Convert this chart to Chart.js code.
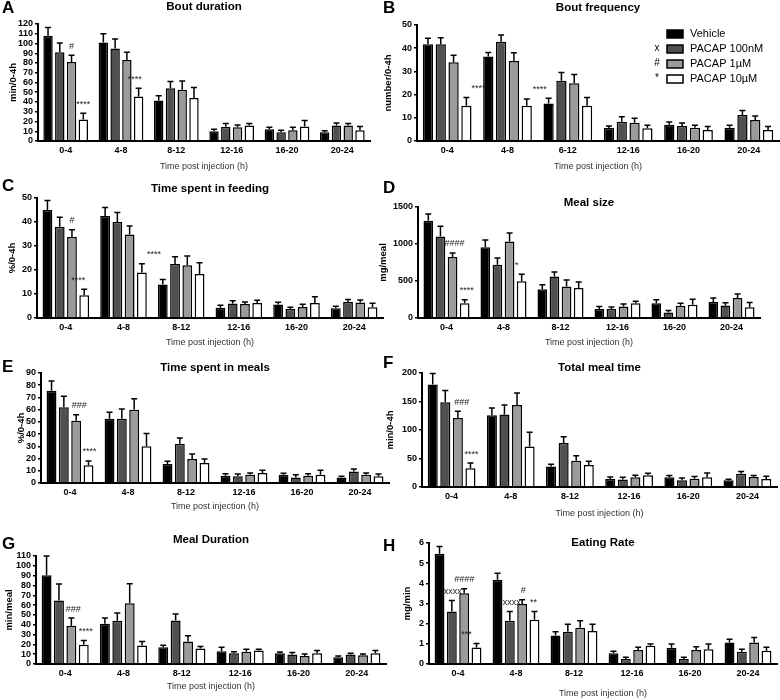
<!DOCTYPE html>
<html>
<head>
<meta charset="utf-8">
<script src="https://cdn.jsdelivr.net/npm/chart.js@4.4.1/dist/chart.umd.min.js"></script>
<style>
  body { margin: 0; background: #fff; width: 780px; height: 700px; position: relative; overflow: hidden; }
  canvas { position: absolute; }
</style>
</head>
<body>
<canvas id="cA"></canvas>
<canvas id="cC"></canvas>
<canvas id="cE"></canvas>
<canvas id="cG"></canvas>
<canvas id="cB"></canvas>
<canvas id="cD"></canvas>
<canvas id="cF"></canvas>
<canvas id="cH"></canvas>
<script>
// ---- data ----
const hours = ['0-4', '4-8', '8-12', '12-16', '16-20', '20-24'];
const hoursB = ['0-4', '4-8', '6-12', '12-16', '16-20', '20-24'];   // as printed in panel B
const groups = ['Vehicle', 'PACAP 100nM', 'PACAP 1µM', 'PACAP 10µM'];
const groupMarks = ['', 'x', '#', '*'];

// rows: vehicle, 100nM, 1uM, 10uM ; columns: time bins
const boutDuration = [
  [108, 101, 41.5, 10, 12, 9],
  [91, 95, 54, 14.7, 9, 16],
  [81, 83, 52.5, 14, 11, 16],
  [22, 45.6, 44, 15.8, 15, 11]
];
const boutDurationSem = [
  [8.5, 9, 5, 2, 2, 1.5],
  [9.5, 9.5, 7, 3.3, 2, 2.5],
  [7, 8, 9, 2.5, 3, 2],
  [6.5, 8.5, 11, 2.2, 6, 4]
];

const boutFrequency = [
  [41.7, 36.4, 16.2, 5.6, 7, 5.7],
  [41.7, 42.8, 26, 8.3, 6.5, 11.2],
  [33.9, 34.5, 24.9, 7.9, 5.7, 9],
  [15.2, 15.2, 15.2, 5.5, 4.7, 4.7]
];
const boutFrequencySem = [
  [2.6, 1.8, 2.2, 0.9, 1.2, 1.1],
  [2.8, 2.9, 3.5, 2.2, 1.3, 1.9],
  [3.1, 3.5, 3.8, 1.9, 1.1, 1.8],
  [3.6, 2.9, 3.5, 1.3, 1.5, 1.5]
];

const feedingTime = [
  [45, 42.5, 14, 4.3, 5.6, 4.1],
  [38, 40, 22.5, 6, 3.7, 6.7],
  [33.8, 34.8, 22, 5.8, 4.6, 6.5],
  [9.5, 19, 18.3, 6.3, 6.3, 4.5]
];
const feedingTimeSem = [
  [4, 3.5, 2, 1, 1, 0.8],
  [4, 4, 3, 1.2, 0.8, 1],
  [3, 3.5, 3.8, 0.9, 1.1, 1],
  [2.5, 3.6, 4.7, 1.1, 2.6, 1.6]
];

const mealSize = [
  [1315, 955, 390, 120, 200, 215],
  [1100, 720, 560, 122, 75, 170],
  [825, 1035, 425, 155, 165, 270],
  [200, 495, 405, 200, 180, 145]
];
const mealSizeSem = [
  [90, 100, 60, 35, 45, 55],
  [140, 90, 60, 25, 28, 35],
  [55, 115, 90, 35, 35, 55],
  [45, 95, 80, 25, 75, 65]
];

const mealTimePct = [
  [75.5, 52.5, 15.5, 6, 6.8, 4.6],
  [62, 52.6, 32.2, 5.5, 4.6, 9.5],
  [51, 60, 19.6, 6.8, 6, 6.8],
  [14.5, 30, 16.4, 8.2, 6.8, 5.5]
];
const mealTimePctSem = [
  [8, 5.3, 2.2, 1.6, 1.1, 0.9],
  [9, 8, 4.6, 1.9, 2.2, 2],
  [4.8, 9, 4.1, 1.4, 1.6, 1.4],
  [3.5, 10.4, 3.2, 2.2, 3.6, 1.9]
];

const totalMealTime = [
  [180, 125.7, 36, 14, 17, 11.7],
  [148.5, 127, 77, 13, 11.7, 23.4],
  [121, 144, 46, 17, 14.6, 17.5],
  [33, 71, 38.6, 20.5, 17, 14]
];
const totalMealTimeSem = [
  [19, 13, 4, 3.5, 3, 1.8],
  [21, 17, 11, 4, 4, 4],
  [11.7, 21, 9, 3.5, 4, 2.5],
  [9, 25, 6.4, 3.5, 7.6, 4.7]
];

const mealDuration = [
  [90.5, 41, 17, 13, 11, 6.8],
  [64.6, 44, 44.4, 11, 9.6, 9.6],
  [39, 62, 23, 12.6, 8.2, 8.9],
  [19.5, 18.8, 15.7, 13.7, 11, 11]
];
const mealDurationSem = [
  [19.5, 5.8, 2, 4, 1.3, 1.4],
  [17, 8, 6.6, 1.6, 2, 1.4],
  [7.8, 19.7, 5.7, 2.4, 2, 1.3],
  [4.5, 4.2, 2.1, 1.3, 2.7, 2.7]
];

const eatingRate = [
  [5.47, 4.18, 1.41, 0.53, 0.81, 1.06],
  [2.6, 2.15, 1.6, 0.25, 0.25, 0.61],
  [3.51, 2.97, 1.8, 0.7, 0.7, 1.06],
  [0.82, 2.19, 1.64, 0.9, 0.73, 0.66]
];
const eatingRateSem = [
  [0.36, 0.32, 0.19, 0.1, 0.18, 0.17],
  [0.55, 0.45, 0.37, 0.08, 0.08, 0.12],
  [0.22, 0.21, 0.35, 0.13, 0.16, 0.25],
  [0.2, 0.41, 0.33, 0.09, 0.26, 0.17]
];

// significance marks: [group, time bin, text, x nudge]
const notesA = [[2, 0, '#', 0], [3, 0, '****', 0], [3, 1, '****', -4]];
const notesB = [[3, 0, '****', 12], [3, 1, '****', 13]];
const notesC = [[2, 0, '#', 0], [3, 0, '****', -6], [3, 1, '****', 12]];
const notesD = [[2, 0, '####', 2], [3, 0, '****', 2], [3, 1, '*', -5]];
const notesE = [[2, 0, '###', 3], [3, 0, '****', 1]];
const notesF = [[2, 0, '###', 4], [3, 0, '****', 1]];
const notesG = [[2, 0, '###', 2], [3, 0, '****', 2]];
const notesH = [[1, 0, 'xxxx', 1], [2, 0, '####', 0], [3, 0, '***', -10],
                [1, 1, 'xxxx', 2], [2, 1, '#', 1], [3, 1, '**', -1]];

// ---- styling ----
const FONT = '"Liberation Sans", Arial, Helvetica, sans-serif';
Chart.defaults.font.family = FONT;
const barFills = ['#000000', '#505050', '#9b9b9b', '#ffffff'];

// box = canvas [x, y, w, h] on the page, area = plot [left, right, top, bottom]
const panels = [
  { id: 'cA', letter: 'A', title: 'Bout duration', yTitle: 'min/0-4h', labels: hours,
    values: boutDuration, sem: boutDurationSem, yMax: 120, yStep: 10, notes: notesA,
    box: [0, 0, 390, 172], area: [38, 370, 24, 141], titleY: 7, letterPos: [2, 8], yPad: 7.5 },
  { id: 'cB', letter: 'B', title: 'Bout frequency', yTitle: 'number/0-4h', labels: hoursB,
    values: boutFrequency, sem: boutFrequencySem, yMax: 50, yStep: 10, notes: notesB, legend: true,
    box: [376, 0, 404, 172], area: [417, 779, 25, 141], titleY: 8, letterPos: [383, 8], yPad: 6.6 },
  { id: 'cC', letter: 'C', title: 'Time spent in feeding', yTitle: '%/0-4h', labels: hours,
    values: feedingTime, sem: feedingTimeSem, yMax: 50, yStep: 10, notes: notesC,
    box: [0, 172, 390, 176], area: [37, 383, 198, 318], titleY: 189, letterPos: [2, 186], yPad: 6.6 },
  { id: 'cD', letter: 'D', title: 'Meal size', yTitle: 'mg/meal', labels: hours,
    values: mealSize, sem: mealSizeSem, yMax: 1500, yStep: 500, notes: notesD,
    box: [376, 172, 404, 176], area: [418, 760, 207, 318], titleY: 203, letterPos: [383, 188], yPad: 1.6 },
  { id: 'cE', letter: 'E', title: 'Time spent in meals', yTitle: '%/0-4h', labels: hours,
    values: mealTimePct, sem: mealTimePctSem, yMax: 90, yStep: 10, notes: notesE,
    box: [0, 350, 390, 162], area: [41, 389, 373, 483], titleY: 368, letterPos: [2, 367], yPad: 15.6 },
  { id: 'cF', letter: 'F', title: 'Total meal time', yTitle: 'min/0-4h', labels: hours,
    values: totalMealTime, sem: totalMealTimeSem, yMax: 200, yStep: 50, notes: notesF,
    box: [376, 350, 404, 169], area: [422, 777, 373, 487], titleY: 368, letterPos: [383, 363], yPad: 8.6 },
  { id: 'cG', letter: 'G', title: 'Meal Duration', yTitle: 'min/meal', labels: hours,
    values: mealDuration, sem: mealDurationSem, yMax: 110, yStep: 10, notes: notesG,
    box: [0, 525, 390, 167], area: [36, 386, 556, 664], titleY: 540, letterPos: [2, 544], yPad: 3.6 },
  { id: 'cH', letter: 'H', title: 'Eating Rate', yTitle: 'mg/min', labels: hours,
    values: eatingRate, sem: eatingRateSem, yMax: 6, yStep: 1, notes: notesH,
    box: [376, 525, 404, 174], area: [429, 777, 543, 664], titleY: 543, letterPos: [383, 546], yPad: 25.6 }
];

// error bars, stars, panel letter/title and the legend
function extras(p) {
  const cx = p.box[0], cy = p.box[1];
  return {
    id: 'extras',
    afterDatasetsDraw(chart) {
      const ctx = chart.ctx, ys = chart.scales.y;
      ctx.save();
      ctx.strokeStyle = '#000';
      ctx.lineWidth = 1.5;
      p.values.forEach((row, i) => {
        const meta = chart.getDatasetMeta(i);
        row.forEach((v, j) => {
          const bar = meta.data[j];
          const top = ys.getPixelForValue(v + p.sem[i][j]);
          ctx.beginPath();
          ctx.moveTo(bar.x, bar.y);
          ctx.lineTo(bar.x, top);
          ctx.moveTo(bar.x - 3, top);
          ctx.lineTo(bar.x + 3, top);
          ctx.stroke();
        });
      });
      ctx.fillStyle = '#222';
      ctx.font = '9px ' + FONT;
      ctx.textAlign = 'center';
      ctx.textBaseline = 'middle';
      p.notes.forEach(([i, j, txt, dx]) => {
        const bar = chart.getDatasetMeta(i).data[j];
        const top = ys.getPixelForValue(p.values[i][j] + p.sem[i][j]);
        ctx.fillText(txt, bar.x + dx, top - 9);
      });
      ctx.restore();
    },
    afterDraw(chart) {
      const ctx = chart.ctx, a = chart.chartArea;
      ctx.save();
      ctx.fillStyle = '#000';
      ctx.textBaseline = 'middle';
      ctx.textAlign = 'left';
      ctx.font = 'bold 17px ' + FONT;
      ctx.fillText(p.letter, p.letterPos[0] - cx, p.letterPos[1] - cy);
      ctx.textAlign = 'center';
      ctx.font = 'bold 11.5px ' + FONT;
      ctx.fillText(p.title, (a.left + a.right) / 2, p.titleY - cy);
      if (p.legend) {
        const x0 = 667 - cx;
        chart.data.datasets.forEach((ds, i) => {
          const y = 34 + i * 15 - cy;
          ctx.fillStyle = ds.backgroundColor;
          ctx.fillRect(x0, y - 4, 16, 8);
          ctx.strokeStyle = '#000';
          ctx.lineWidth = 1.5;
          ctx.strokeRect(x0, y - 4, 16, 8);
          ctx.fillStyle = '#000';
          ctx.textAlign = 'left';
          ctx.font = '11px ' + FONT;
          ctx.fillText(ds.label, x0 + 23, y);
          ctx.textAlign = 'center';
          ctx.font = '10px ' + FONT;
          ctx.fillText(groupMarks[i], x0 - 10, y - 1);
        });
      }
      ctx.restore();
    }
  };
}

function makeChart(p) {
  const [cx, cy, cw, ch] = p.box;
  const [L, R, T, B] = p.area;
  const el = document.getElementById(p.id);
  el.width = cw;
  el.height = ch;
  el.style.left = cx + 'px';
  el.style.top = cy + 'px';

  const datasets = p.values.map((row, i) => ({
    label: groups[i],
    data: row,
    backgroundColor: barFills[i],
    borderColor: '#000',
    borderWidth: 1.5,
    categoryPercentage: 0.85,
    barPercentage: 0.8
  }));

  return new Chart(el, {
    type: 'bar',
    data: { labels: p.labels, datasets: datasets },
    options: {
      responsive: false,
      animation: false,
      devicePixelRatio: 1,
      layout: { padding: { left: 0, top: T - cy, right: cx + cw - R, bottom: 0 } },
      plugins: { legend: { display: false }, title: { display: false }, tooltip: { enabled: false } },
      scales: {
        x: {
          grid: { display: false, drawTicks: false },
          border: { display: true, color: '#000', width: 2 },
          ticks: { color: '#000', font: { size: 9, weight: 'bold' }, padding: 4, maxRotation: 0, autoSkip: false },
          title: { display: true, text: 'Time post injection (h)', color: '#333', font: { size: 9 }, padding: { top: 0, bottom: 0 } },
          afterFit: s => { s.height = cy + ch - B; }
        },
        y: {
          min: 0,
          max: p.yMax,
          grid: { drawOnChartArea: false, drawTicks: true, tickLength: 3, color: '#000', lineWidth: 1.5 },
          border: { display: true, color: '#000', width: 2 },
          ticks: { stepSize: p.yStep, autoSkip: false, color: '#000', padding: 2,
                   font: { size: 9, weight: 'bold', lineHeight: 1 }, callback: v => String(v) },
          title: { display: true, text: p.yTitle, color: '#000', font: { size: 9.5, weight: 'bold' }, padding: { top: p.yPad, bottom: 0 } },
          afterFit: s => { s.width = L - cx; }
        }
      }
    },
    plugins: [extras(p)]
  });
}

panels.forEach(makeChart);
</script>
</body>
</html>
